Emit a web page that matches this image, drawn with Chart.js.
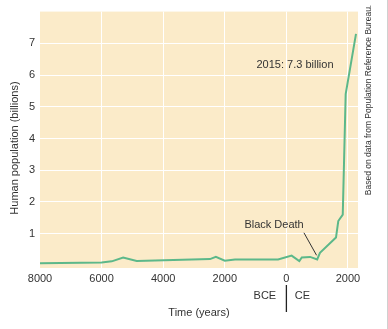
<!DOCTYPE html>
<html><head><meta charset="utf-8">
<script src="https://cdn.jsdelivr.net/npm/chart.js@4/dist/chart.umd.min.js"></script>
<style>html,body{margin:0;padding:0;background:#fff}#w{width:388px;height:329px}</style>
</head><body><div id="w"><canvas id="c" width="388" height="329"></canvas></div>
<script>
const years = [-8000, -6000, -5670, -5300, -4860, -2480, -2290, -2000, -1670, -270, 170, 420, 500, 770, 1000, 1090, 1610, 1685, 1830, 1925, 2260];
const population = [0.07, 0.09, 0.13, 0.25, 0.14, 0.2, 0.27, 0.15, 0.19, 0.19, 0.31, 0.14, 0.25, 0.27, 0.19, 0.4, 0.88, 1.4, 1.6, 5.4, 7.3];
const xTicks = [-8000, -6000, -4000, -2000, 0, 2000];
const yTicks = [1, 2, 3, 4, 5, 6, 7];
const yTitle = 'Human population (billions)';
const xTitle = 'Time (years)';
const sourceNote = 'Based on data from Population Reference Bureau.';
const peakNote = '2015: 7.3 billion';
const eventNote = 'Black Death';

const FONT = 'Liberation Sans, Arial, Helvetica, sans-serif';
const TXT = '#333333';

const deco = {
  id: 'deco',
  beforeDraw(chart) {
    const {ctx, chartArea: a} = chart;
    ctx.save();
    ctx.fillStyle = '#fbebc9';
    ctx.fillRect(a.left, a.top, a.right - a.left, a.bottom - a.top);
    ctx.restore();
  },
  afterDraw(chart) {
    const {ctx, chartArea: a} = chart;
    const xs = chart.scales.x, ys = chart.scales.y;
    ctx.save();
    ctx.fillStyle = TXT;
    ctx.textAlign = 'center';
    ctx.textBaseline = 'middle';
    // y title
    ctx.save();
    ctx.translate(15, 148);
    ctx.rotate(-Math.PI / 2);
    ctx.font = '11px ' + FONT;
    ctx.fillText(yTitle, 0, 0);
    ctx.restore();
    // x title
    ctx.font = '11px ' + FONT;
    ctx.fillText(xTitle, (a.left + a.right) / 2, 313);
    // BCE / CE
    const x0 = xs.getPixelForValue(0);
    ctx.fillText('BCE', x0 - 21.5, 296);
    ctx.fillText('CE', x0 + 16, 296);
    ctx.strokeStyle = '#222';
    ctx.lineWidth = 1.3;
    ctx.beginPath();
    ctx.moveTo(x0, 285); ctx.lineTo(x0, 312);
    ctx.stroke();
    // annotations
    ctx.fillText(peakNote, xs.getPixelForValue(280), ys.getPixelForValue(6.32));
    ctx.fillText(eventNote, xs.getPixelForValue(-400), ys.getPixelForValue(1.27));
    ctx.strokeStyle = '#333';
    ctx.lineWidth = 1;
    ctx.beginPath();
    ctx.moveTo(xs.getPixelForValue(570), ys.getPixelForValue(1.03));
    ctx.lineTo(xs.getPixelForValue(980), ys.getPixelForValue(0.32));
    ctx.stroke();
    // source note
    ctx.save();
    ctx.translate(369, 100);
    ctx.rotate(-Math.PI / 2);
    ctx.font = '8.5px ' + FONT;
    ctx.fillText(sourceNote, 0, 0);
    ctx.restore();
    // right border
    ctx.strokeStyle = '#d0d0d0';
    ctx.beginPath();
    ctx.moveTo(387.5, 0); ctx.lineTo(387.5, 329);
    ctx.stroke();
    ctx.restore();
  }
};

new Chart(document.getElementById('c'), {
  type: 'line',
  data: {
    datasets: [{
      data: years.map((y, i) => ({x: y, y: population[i]})),
      borderColor: '#5cb88a',
      borderWidth: 2,
      pointRadius: 0,
      tension: 0,
      fill: false
    }]
  },
  options: {
    responsive: false,
    animation: false,
    devicePixelRatio: 1,
    layout: {padding: {top: 5, right: 30, left: 0, bottom: 0}},
    plugins: {legend: {display: false}, tooltip: {enabled: false}},
    scales: {
      x: {
        type: 'linear',
        min: -8000, max: 2325,
        afterFit(s) { s.height = 61; },
        afterBuildTicks(s) { s.ticks = xTicks.map(v => ({value: v})); },
        border: {display: false},
        grid: {
          drawTicks: false,
          color: c => (c.tick && c.tick.value === -8000) ? 'rgba(0,0,0,0)' : '#ffffff',
          lineWidth: 1
        },
        ticks: {
          padding: 4,
          color: TXT,
          font: {family: FONT, size: 11},
          maxRotation: 0,
          callback: v => String(Math.abs(v))
        }
      },
      y: {
        min: -0.08, max: 8,
        afterFit(s) { s.width = 40; },
        afterBuildTicks(s) { s.ticks = yTicks.map(v => ({value: v})); },
        border: {display: false},
        grid: {drawTicks: false, color: '#ffffff', lineWidth: 1},
        ticks: {
          padding: 5,
          color: TXT,
          font: {family: FONT, size: 11},
          callback: v => String(v)
        }
      }
    }
  },
  plugins: [deco]
});
</script>
</body></html>
